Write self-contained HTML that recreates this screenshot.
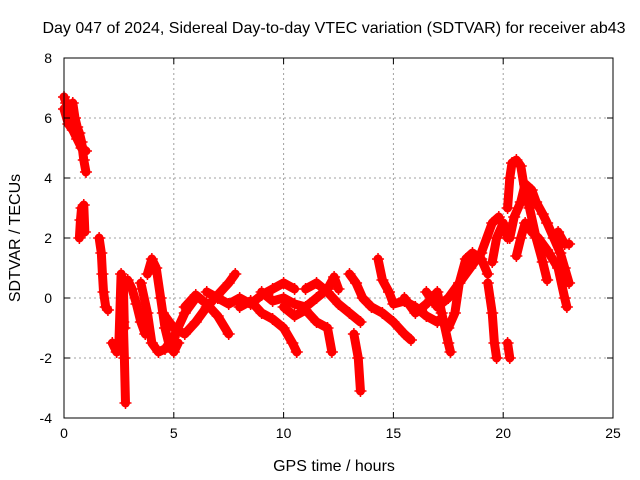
<!DOCTYPE html>
<html><head><meta charset="utf-8"><style>
body{margin:0;background:#fff;}
svg{display:block;font-family:"Liberation Sans",sans-serif;}
</style></head><body>
<svg id="chart" width="640" height="480">
<text x="334" y="33" font-size="16" text-anchor="middle">Day 047 of 2024, Sidereal Day-to-day VTEC variation (SDTVAR) for receiver ab43</text>
<g id="grid"></g><g id="marks"></g><g id="axes"></g>
<text x="334" y="471" font-size="16" text-anchor="middle">GPS time / hours</text>
<text transform="translate(20,238) rotate(-90)" font-size="16" text-anchor="middle">SDTVAR / TECUs</text>
</svg>
<script>
const xTicks=[0,5,10,15,20,25];
const yTicks=[-4,-2,0,2,4,6,8];
const tracks=[
[[0,6.7],[0.1,6.5],[0.2,6.0],[0.3,5.8],[0.4,6.5],[0.5,6.0],[0.6,5.7],[0.7,5.5],[0.8,5.2],[0.9,4.6],[1.0,4.2]],
[[0,6.3],[0.2,5.8],[0.4,5.6],[0.6,5.3],[0.8,5.0],[1.0,4.9]],
[[0.7,2.0],[0.75,2.6],[0.8,3.0],[0.9,3.1],[0.95,2.2]],
[[1.6,2.0],[1.7,1.5],[1.75,0.8],[1.8,0.2],[1.9,-0.3],[2.0,-0.4]],
[[2.2,-1.5],[2.4,-1.8],[2.5,-1.5],[2.6,0.8],[2.7,0.5],[2.75,-1.0]],
[[2.7,-0.8],[2.75,-2.0],[2.8,-3.5]],
[[2.9,0.6],[3.1,0.3],[3.3,-0.2],[3.5,-0.8],[3.7,-1.2]],
[[3.8,0.8],[4.0,1.3],[4.2,1.0],[4.4,0],[4.6,-1.0],[4.8,-1.6],[5.0,-1.8],[5.2,-1.5]],
[[3.5,0.5],[3.8,-0.5],[4.0,-1.5],[4.3,-1.8],[4.6,-1.7],[5.0,-1.3],[5.5,-0.5],[6,0]],
[[4.5,-0.5],[5,-1.0],[5.5,-1.2],[6,-0.8],[6.5,-0.3],[7,0.1],[7.5,0.5],[7.8,0.8]],
[[5.5,-0.3],[6,0.1],[6.5,-0.2],[7,-0.6],[7.5,-1.2]],
[[6.5,0.2],[7,0],[7.5,-0.2],[8,0],[8.5,-0.2],[9,0.1],[9.5,0.3],[10,0.5],[10.5,0.3]],
[[8,-0.3],[8.5,-0.1],[9,-0.5],[9.5,-0.7],[10,-1.0],[10.4,-1.5],[10.6,-1.8]],
[[9,0.2],[9.5,-0.1],[10,0],[10.5,-0.2],[11,-0.3],[11.5,0],[12,0.3],[12.3,0.7],[12.5,0.3]],
[[10,-0.3],[10.5,-0.6],[11,-0.4],[11.5,-0.8],[12,-1.0],[12.2,-1.8]],
[[11,0.3],[11.5,0.5],[12,0.2],[12.5,-0.2],[13,-0.5],[13.5,-0.8]],
[[13,0.8],[13.3,0.5],[13.6,0],[14,-0.3],[14.5,-0.5],[15,-0.8],[15.5,-1.2],[15.8,-1.4]],
[[13.2,-1.2],[13.4,-2.0],[13.5,-3.1]],
[[14.3,1.3],[14.5,0.6],[14.8,0.2],[15,-0.2],[15.5,-0.1],[16,-0.3],[16.5,-0.6],[17,-0.8]],
[[15.5,0],[16,-0.5],[16.5,-0.2],[17,0.2],[17.2,-0.5],[17.5,-1.5],[17.6,-1.8]],
[[16.5,0.2],[17,-0.3],[17.5,0.0],[18,0.5],[18.5,1.0],[19,1.5],[19.5,2.5],[19.8,2.7]],
[[17.5,-1.0],[17.8,-0.5],[18,0.5],[18.3,1.3],[18.6,1.5],[19,1.3],[19.3,0.8]],
[[19.3,0.5],[19.5,-0.5],[19.6,-1.5],[19.7,-2.0]],
[[19.5,1.2],[19.7,2.0],[20.0,2.5],[20.2,2.0]],
[[20.2,-1.5],[20.3,-2.0]],
[[20.2,3.0],[20.3,4.0],[20.4,4.5],[20.6,4.6],[20.8,4.4],[21,3.5],[21.2,3.0],[21.5,2.0],[21.8,1.2],[22,0.6]],
[[20.3,2.0],[20.5,2.7],[20.8,3.2],[21,3.8],[21.3,3.6],[21.5,3.2],[21.8,2.8],[22,2.5],[22.3,2.0],[22.6,1.5],[22.8,1.0],[23,0.5]],
[[20.6,1.4],[20.8,2.0],[21,2.5],[21.3,2.2],[21.6,2.0],[22,1.6],[22.5,1.0],[22.8,0],[22.9,-0.3]],
[[22.5,2.2],[22.8,1.8],[23,1.8]]
];
const L=64,R=613,T=58,B=418;
const xS=h=>L+(h-0)/25*(R-L);
const yS=v=>B-(v+4)/12*(B-T);
const NS='http://www.w3.org/2000/svg';
const grid=document.getElementById('grid'),axes=document.getElementById('axes'),marks=document.getElementById('marks');
function mk(tag,at,parent){const e=document.createElementNS(NS,tag);for(const k in at)e.setAttribute(k,at[k]);parent.appendChild(e);return e;}
xTicks.forEach(t=>{const x=xS(t);
 if(t>0&&t<25){const g=mk('line',{x1:x,x2:x,y1:T,y2:B,stroke:'#a0a0a0','stroke-dasharray':'2,3'},grid);
 
 }
 mk('line',{x1:x,x2:x,y1:B,y2:B-6,stroke:'#000'},axes);mk('line',{x1:x,x2:x,y1:T,y2:T+6,stroke:'#000'},axes);
 const tx=mk('text',{x:x,y:B+20,'font-size':14,'text-anchor':'middle'},axes);tx.textContent=t;
 
 });
yTicks.forEach(t=>{const y=yS(t);
 if(t>-4&&t<8){const g=mk('line',{x1:L,x2:R,y1:y,y2:y,stroke:'#a0a0a0','stroke-dasharray':'2,3'},grid);
 
 }
 mk('line',{x1:L,x2:L+6,y1:y,y2:y,stroke:'#000'},axes);mk('line',{x1:R,x2:R-6,y1:y,y2:y,stroke:'#000'},axes);
 const tx=mk('text',{x:L-12,y:y+5,'font-size':14,'text-anchor':'end'},axes);tx.textContent=t;
 
 });
const fr=mk('rect',{x:L,y:T,width:R-L,height:B-T,fill:'none',stroke:'#000'},axes);


tracks.forEach((tr,i)=>{
 const g=mk('g',{},marks);
 
 
 mk('polyline',{points:tr.map(p=>xS(p[0])+','+yS(p[1])).join(' '),fill:'none',stroke:'#f00','stroke-width':9,'stroke-linejoin':'round','stroke-linecap':'round'},g);
 tr.forEach(p=>{const x=xS(p[0]),y=yS(p[1]);
  mk('path',{d:`M${x-6},${y}h12M${x},${y-6}v12`,stroke:'#f00','stroke-width':1.5},g);});
});
</script>
</body></html>
